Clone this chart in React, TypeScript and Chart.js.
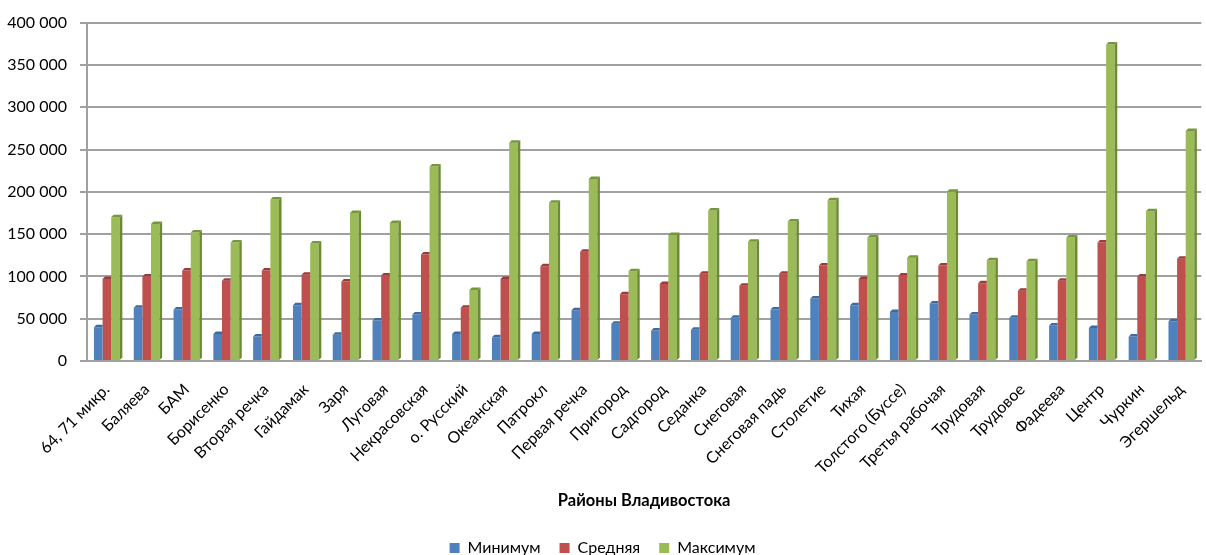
import React, { useEffect, useRef } from 'react';
import { Chart, registerables } from 'chart.js';

Chart.register(...registerables);

const categories: string[] = [
  '64, 71 микр.', 'Баляева', 'БАМ', 'Борисенко', 'Вторая речка', 'Гайдамак', 'Заря', 'Луговая',
  'Некрасовская', 'о. Русский', 'Океанская', 'Патрокл', 'Первая речка', 'Пригород', 'Садгород',
  'Седанка', 'Снеговая', 'Снеговая падь', 'Столетие', 'Тихая', 'Толстого (Буссе)', 'Третья рабочая',
  'Трудовая', 'Трудовое', 'Фадеева', 'Центр', 'Чуркин', 'Эгершельд',
];

const seriesNames: string[] = ['Минимум', 'Средняя', 'Максимум'];

const minimum: number[] = [
  40000, 63000, 61000, 32000, 29000, 66000, 31000, 48000, 55000, 32000, 28000, 32000, 60000, 44000,
  36000, 37000, 51000, 61000, 74000, 66000, 58000, 68000, 55000, 51000, 42000, 39000, 29000, 47000,
];

const average: number[] = [
  97000, 100000, 107000, 95000, 107000, 102000, 94000, 101000, 126000, 63000, 97000, 112000, 129000, 79000,
  91000, 103000, 89000, 103000, 113000, 97000, 101000, 113000, 92000, 83000, 95000, 140000, 100000, 121000,
];

const maximum: number[] = [
  170000, 162000, 152000, 140000, 191000, 139000, 175000, 163000, 230000, 84000, 258000, 187000, 215000, 106000,
  149000, 178000, 141000, 165000, 190000, 146000, 122000, 200000, 119000, 118000, 146000, 374000, 177000, 272000,
];

const yTickValues: number[] = [0, 50000, 100000, 150000, 200000, 250000, 300000, 350000, 400000];

const fmt = (v: number) => String(v).replace(/\B(?=(\d{3})+(?!\d))/g, ' ');

const W = 1206;
const H = 566;

const bar3d = {
  id: 'bar3d',
  afterDatasetsDraw(chart: any) {
    const ctx = chart.ctx;
    const d = 2.5;
    const n = chart.data.datasets.length;
    ctx.save();
    for (let i = 0; i < n; i++) {
      const meta = chart.getDatasetMeta(i);
      const ds: any = chart.data.datasets[i];
      const next = i < n - 1 ? chart.getDatasetMeta(i + 1) : null;
      meta.data.forEach((el: any, j: number) => {
        const { x, y, base, width } = el.getProps(['x', 'y', 'base', 'width'], true);
        const l = x - width / 2;
        const r = x + width / 2;
        let sideBottom = base;
        let hidden = false;
        if (next && next.data[j]) {
          const ny = next.data[j].getProps(['y'], true).y;
          if (ny <= y) hidden = true;
          else sideBottom = ny;
        }
        if (!hidden) {
          ctx.fillStyle = ds.sideColor;
          ctx.beginPath();
          ctx.moveTo(r, y);
          ctx.lineTo(r + d, y - d);
          ctx.lineTo(r + d, sideBottom - d);
          ctx.lineTo(r, sideBottom);
          ctx.closePath();
          ctx.fill();
        }
        ctx.fillStyle = ds.topColor;
        ctx.beginPath();
        ctx.moveTo(l, y);
        ctx.lineTo(l + d, y - d);
        ctx.lineTo(hidden ? r : r + d, y - d);
        ctx.lineTo(r, y);
        ctx.closePath();
        ctx.fill();
      });
    }
    ctx.restore();
  },
};

export default function App() {
  const ref = useRef<HTMLCanvasElement | null>(null);

  useEffect(() => {
    if (!ref.current) return;
    const gridColor = '#a0a0a0';
    const chart = new Chart(ref.current, {
      type: 'bar',
      data: {
        labels: categories,
        datasets: [
          {
            label: seriesNames[0], data: minimum, backgroundColor: '#4F81BD',
            sideColor: '#35618f', topColor: '#3d6aa0',
          } as any,
          {
            label: seriesNames[1], data: average, backgroundColor: '#C0504D',
            sideColor: '#8e3533', topColor: '#9c3b39',
          } as any,
          {
            label: seriesNames[2], data: maximum, backgroundColor: '#9BBB59',
            sideColor: '#6b8a33', topColor: '#77963c',
          } as any,
        ],
      },
      options: {
        responsive: false,
        animation: false,
        layout: { padding: { top: 18, right: 1, left: 0, bottom: 0 } },
        datasets: { bar: { categoryPercentage: 0.65, barPercentage: 1.0 } },
        scales: {
          x: {
            grid: { display: false },
            border: { display: true, color: gridColor, width: 2 },
            ticks: {
              autoSkip: false,
              minRotation: 45,
              maxRotation: 45,
              padding: 11,
              color: '#000',
              font: { family: 'Lato', size: 16 },
            },
            title: {
              display: true,
              text: 'Районы Владивостока',
              color: '#000',
              font: { family: 'Lato', size: 16.5, weight: 'bold' },
              padding: { top: 0, bottom: 10 },
            },
            afterFit: (s: any) => { s.height = 160; },
          },
          y: {
            min: 0,
            max: 400000,
            afterBuildTicks: (s: any) => { s.ticks = yTickValues.map((v) => ({ value: v })); },
            ticks: {
              callback: (v: any) => fmt(Number(v)),
              color: '#000',
              font: { family: 'Lato', size: 16 },
              padding: 13,
            },
            grid: { color: gridColor, lineWidth: 2, tickLength: 7 },
            border: { display: true, color: gridColor, width: 2 },
            afterFit: (s: any) => { s.width = 87; },
          },
        },
        plugins: {
          legend: {
            position: 'bottom',
            labels: {
              boxWidth: 10,
              boxHeight: 10,
              padding: 19,
              color: '#000',
              font: { family: 'Lato', size: 16 },
            },
          },
          tooltip: { enabled: false },
        },
      } as any,
      plugins: [bar3d],
    });
    return () => chart.destroy();
  }, []);

  return (
    <div style={{ position: 'fixed', left: 0, top: 0, width: W, height: 555, overflow: 'hidden', background: '#fff' }}>
      <canvas ref={ref} width={W} height={H} style={{ width: W, height: H, display: 'block' }} />
    </div>
  );
}
